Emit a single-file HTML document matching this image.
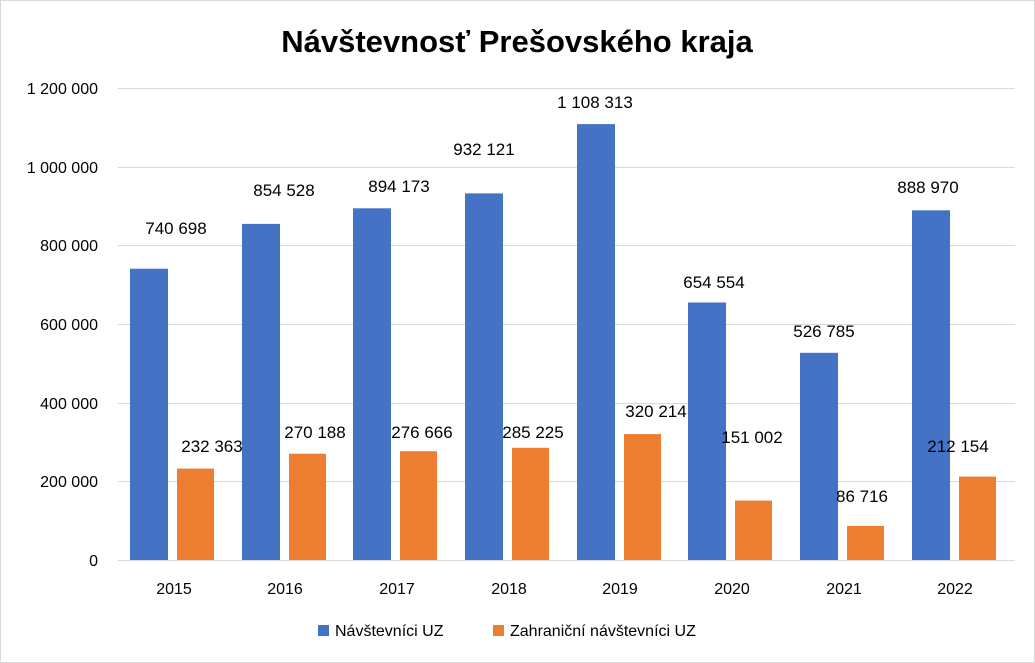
<!DOCTYPE html>
<html><head><meta charset="utf-8"><style>
html,body{margin:0;padding:0;background:#fff;}
svg{display:block;font-family:"Liberation Sans",sans-serif;}
</style></head><body>
<svg width="1035" height="663" viewBox="0 0 1035 663">
<rect x="0.5" y="0.5" width="1034" height="662" fill="#fff" stroke="#d9d9d9"/>
<text x="517" y="52" text-anchor="middle" font-size="31" font-weight="bold" fill="#000">Návštevnosť Prešovského kraja</text>
<g stroke="#d9d9d9" stroke-width="1">
<line x1="118" x2="1015" y1="88.5" y2="88.5"/>
<line x1="118" x2="1015" y1="167.5" y2="167.5"/>
<line x1="118" x2="1015" y1="245.5" y2="245.5"/>
<line x1="118" x2="1015" y1="324.5" y2="324.5"/>
<line x1="118" x2="1015" y1="403.5" y2="403.5"/>
<line x1="118" x2="1015" y1="481.5" y2="481.5"/>
<line x1="118" x2="1015" y1="560.5" y2="560.5"/>
</g>
<g font-size="16" fill="#000" text-anchor="end">
<text x="98" y="94">1 200 000</text>
<text x="98" y="173">1 000 000</text>
<text x="98" y="251">800 000</text>
<text x="98" y="330">600 000</text>
<text x="98" y="409">400 000</text>
<text x="98" y="487">200 000</text>
<text x="98" y="566">0</text>
</g>
<g fill="#4472c4">
<rect x="130" y="268.7" width="38" height="291.3"/>
<rect x="242" y="223.9" width="38" height="336.1"/>
<rect x="353" y="208.3" width="38" height="351.7"/>
<rect x="465" y="193.4" width="38" height="366.6"/>
<rect x="577" y="124.1" width="38" height="435.9"/>
<rect x="688" y="302.5" width="38" height="257.5"/>
<rect x="800" y="352.8" width="38" height="207.2"/>
<rect x="912" y="210.3" width="38" height="349.7"/>
</g>
<g fill="#ed7d31">
<rect x="177" y="468.6" width="37" height="91.4"/>
<rect x="289" y="453.7" width="37" height="106.3"/>
<rect x="400" y="451.2" width="37" height="108.8"/>
<rect x="512" y="447.8" width="37" height="112.2"/>
<rect x="624" y="434.1" width="37" height="125.9"/>
<rect x="735" y="500.6" width="37" height="59.4"/>
<rect x="847" y="525.9" width="37" height="34.1"/>
<rect x="959" y="476.6" width="37" height="83.4"/>
</g>
<g font-size="17" fill="#000" text-anchor="middle">
<text x="176" y="234">740 698</text>
<text x="284" y="196">854 528</text>
<text x="399" y="192">894 173</text>
<text x="484" y="155">932 121</text>
<text x="595" y="108">1 108 313</text>
<text x="714" y="288">654 554</text>
<text x="824" y="337">526 785</text>
<text x="928" y="193">888 970</text>
<text x="212" y="452">232 363</text>
<text x="315" y="438">270 188</text>
<text x="422" y="438">276 666</text>
<text x="533" y="438">285 225</text>
<text x="656" y="417">320 214</text>
<text x="752" y="443">151 002</text>
<text x="862" y="502">86 716</text>
<text x="958" y="452">212 154</text>
</g>
<g font-size="16" fill="#000" text-anchor="middle">
<text x="174" y="594">2015</text>
<text x="285" y="594">2016</text>
<text x="397" y="594">2017</text>
<text x="509" y="594">2018</text>
<text x="620" y="594">2019</text>
<text x="732" y="594">2020</text>
<text x="844" y="594">2021</text>
<text x="955" y="594">2022</text>
</g>
<rect x="318" y="625" width="11" height="11" fill="#4472c4"/>
<text x="335" y="636" font-size="16" fill="#000">Návštevníci UZ</text>
<rect x="493" y="625" width="11" height="11" fill="#ed7d31"/>
<text x="510" y="636" font-size="16" fill="#000">Zahraniční návštevníci UZ</text>
</svg>
</body></html>
